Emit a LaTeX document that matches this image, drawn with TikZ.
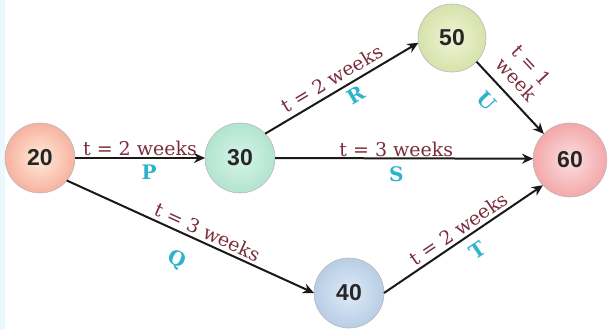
\documentclass[tikz,border=0pt]{standalone}
\usepackage{fontspec}
\setmainfont{DejaVu Serif}
\newfontfamily\numfont{Liberation Sans}
\usetikzlibrary{arrows.meta}
\definecolor{lblred}{HTML}{7A2E3C}
\definecolor{lblcyan}{HTML}{2DB3CC}
\definecolor{ringgray}{HTML}{B8B8B8}
\tikzset{
  event/.style={circle, minimum size=70pt, inner sep=0pt, outer sep=0pt, draw=ringgray, line width=0.6pt,
    font=\numfont\bfseries\fontsize{23}{24}\selectfont, text=black!85},
  act/.style={line width=2pt, draw=black!90, -{Stealth[length=11pt,width=10pt]}},
  dur/.style={font=\fontsize{19}{21}\selectfont, text=lblred, inner sep=1pt},
  tag/.style={font=\bfseries\fontsize{20}{20}\selectfont, text=lblcyan, inner sep=0pt},
}
\begin{document}
\begin{tikzpicture}[x=1pt,y=-1pt]
  \useasboundingbox (0,0) rectangle (607,330);
  \fill[white] (0,0) rectangle (607,330);
  \fill[cyan!8] (0,0) rectangle (5,330);

  % events
  \node[event, inner color=orange!15, outer color={rgb,255:red,247;green,178;blue,160}] (n20) at (40,158) {20};
  \node[event, inner color={rgb,255:red,214;green,244;blue,232}, outer color={rgb,255:red,178;green,228;blue,208}] (n30) at (240,158) {30};
  \node[event, minimum size=68pt, inner color={rgb,255:red,240;green,244;blue,214}, outer color={rgb,255:red,214;green,226;blue,170}] (n50) at (452,38) {50};
  \node[event, minimum size=74pt, inner color={rgb,255:red,252;green,222;blue,222}, outer color={rgb,255:red,243;green,168;blue,170}] (n60) at (570,160) {60};
  \node[event, inner color={rgb,255:red,222;green,234;blue,246}, outer color={rgb,255:red,184;green,206;blue,230}] (n40) at (349,293) {40};

  % activities
  \draw[act] (n20.east) -- node[dur, above, pos=0.5] {t = 2 weeks} node[tag, below=6pt, pos=0.57] {P} (n30.west);
  \draw[act] (n30.east) -- node[dur, above, pos=0.47] {t = 3 weeks} node[tag, below=7pt, pos=0.47] {S} (n60.178);
  \draw[act] (n30.44) -- node[dur, above=4pt, sloped, pos=0.48] {t = 2 weeks} node[tag, below=5pt, sloped, pos=0.55] {R} (n50.188);
  \draw[act] (n50.-44) -- node[dur, above=8pt, sloped, align=center, pos=0.41] {t = 1\\week} node[tag, below=11pt, sloped, pos=0.36] {U} (n60.135);
  \draw[act] (n20.-40) -- node[dur, above=2pt, sloped, pos=0.55] {t = 3 weeks} node[tag, below=17pt, pos=0.49, sloped] {Q} (n40.west);
  \draw[act] (n40.east) -- node[dur, above=2pt, sloped, pos=0.51] {t = 2 weeks} node[tag, below=9pt, pos=0.53, sloped] {T} (n60.223);
\end{tikzpicture}
\end{document}
